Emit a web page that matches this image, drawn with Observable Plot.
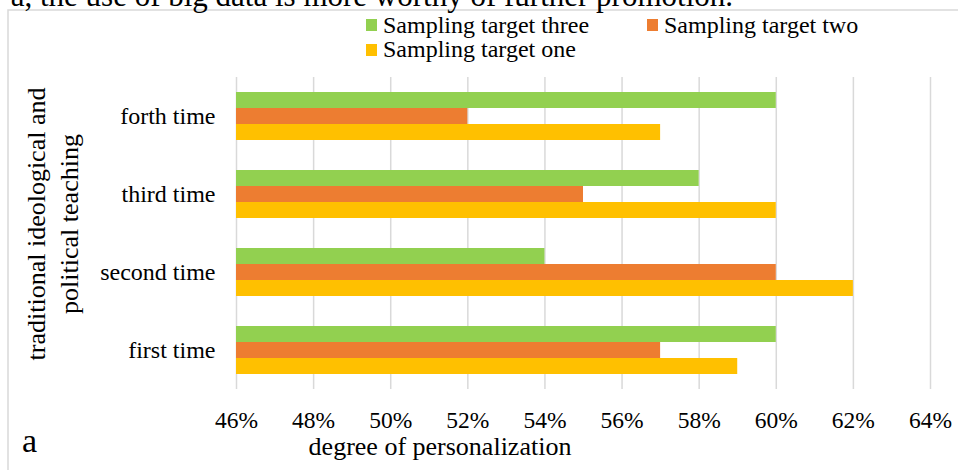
<!DOCTYPE html>
<html><head><meta charset="utf-8">
<script src="https://cdn.jsdelivr.net/npm/d3@7"></script>
<script src="https://cdn.jsdelivr.net/npm/@observablehq/plot@0.6"></script>
<style>
body{margin:0;background:#fff;}
#chart{position:relative;width:958px;height:470px;overflow:hidden;}
</style></head><body><div id="chart"></div>
<script>
const categories = ["forth time", "third time", "second time", "first time"];
const seriesNames = ["Sampling target three", "Sampling target two", "Sampling target one"];
const seriesColors = ["#92d050", "#ed7d31", "#ffc000"];
const targetThree = [0.60, 0.58, 0.54, 0.60];
const targetTwo = [0.52, 0.55, 0.60, 0.57];
const targetOne = [0.57, 0.60, 0.62, 0.59];
const xTicks = [0.46, 0.48, 0.50, 0.52, 0.54, 0.56, 0.58, 0.60, 0.62, 0.64];
const topText = "a, the use of big data is more worthy of further promotion.";
const xTitle = "degree of personalization";
const yTitleLines = ["traditional ideological and", "political teaching"];
const panelLabel = "a";

const FONT = '"Liberation Serif","Times New Roman",serif';
const seriesValues = [targetThree, targetTwo, targetOne];
const rows = seriesValues.map((vals, s) => categories.map((c, j) => ({category: c, series: seriesNames[s], value: vals[j]})));
const BAND = 48, PART = BAND / 3;

const marks = [
  Plot.gridX(xTicks, {stroke: "#d9d9d9", strokeOpacity: 1, strokeWidth: 1.5}),
  ...rows.map((data, s) => Plot.barX(data, {
    x1: xTicks[0], x2: "value", y: "category",
    fill: seriesColors[s],
    insetTop: s * PART, insetBottom: (2 - s) * PART
  })),
  Plot.axisX(xTicks, {tickSize: 0, tickPadding: 22, fontSize: 23.5, tickFormat: d3.format(".0%"), label: null}),
  Plot.axisY({tickSize: 0, tickPadding: 21, fontSize: 24, label: null})
];

const svg = Plot.plot({
  width: 958, height: 470,
  marginLeft: 236, marginRight: 28, marginTop: 77, marginBottom: 81,
  style: {fontFamily: FONT, color: "#000", background: "transparent", overflow: "visible"},
  x: {domain: [xTicks[0], xTicks[xTicks.length - 1]]},
  y: {domain: categories, paddingInner: 0.385, paddingOuter: 0.192},
  marks
});

const s = d3.select(svg);
// outer frame
s.append("path").attr("d", "M8,475V10H965").attr("fill", "none").attr("stroke", "#d9d9d9").attr("stroke-width", 1.5);
// cropped text above
s.append("text").attr("x", 733).attr("y", 6).attr("text-anchor", "end")
  .attr("font-family", FONT).attr("font-size", 31).attr("fill", "#000").text(topText);
// legend
const legendPos = [[366, 19, 383, 33], [647, 19, 664, 33], [366, 44, 383, 57]];
seriesNames.forEach((name, i) => {
  const [sx, sy, tx, ty] = legendPos[i];
  s.append("rect").attr("x", sx).attr("y", sy).attr("width", 11).attr("height", 12).attr("fill", seriesColors[i]);
  s.append("text").attr("x", tx).attr("y", ty).attr("text-anchor", "start").attr("font-family", FONT).attr("font-size", 24).attr("fill", "#000").text(name);
});
// x title
s.append("text").attr("x", 440).attr("y", 455).attr("text-anchor", "middle")
  .attr("font-family", FONT).attr("font-size", 26).attr("fill", "#000").text(xTitle);
// y title
yTitleLines.forEach((line, i) => {
  s.append("text").attr("transform", `translate(${45 + i * 33},224) rotate(-90)`).attr("text-anchor", "middle")
    .attr("font-family", FONT).attr("font-size", 26).attr("fill", "#000").text(line);
});
// panel label
s.append("text").attr("x", 22).attr("y", 452).attr("text-anchor", "start").attr("font-family", FONT).attr("font-size", 34).attr("fill", "#000").text(panelLabel);

document.getElementById("chart").appendChild(svg);
</script></body></html>
